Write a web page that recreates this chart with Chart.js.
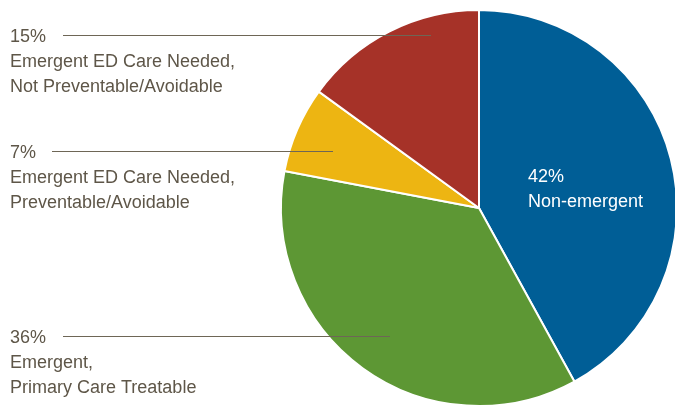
<!DOCTYPE html>
<html>
<head>
<meta charset="utf-8">
<script src="https://cdn.jsdelivr.net/npm/chart.js@4/dist/chart.umd.min.js"></script>
<style>
    html, body { margin: 0; padding: 0; background: #fff; overflow: hidden; }
    #wrap { position: relative; width: 700px; height: 420px; }
</style>
</head>
<body>
<div id="wrap"><canvas id="edChart" width="700" height="420"></canvas></div>
<script>
// ED visit categories, clockwise from 12 o'clock
const categories = [
    'Non-emergent',
    'Emergent, Primary Care Treatable',
    'Emergent ED Care Needed, Preventable/Avoidable',
    'Emergent ED Care Needed, Not Preventable/Avoidable'
];
const shares = [42, 36, 7, 15];

// caption lines printed under each percentage
const captionLines = [
    ['Non-emergent'],
    ['Emergent,', 'Primary Care Treatable'],
    ['Emergent ED Care Needed,', 'Preventable/Avoidable'],
    ['Emergent ED Care Needed,', 'Not Preventable/Avoidable']
];

const sliceColors = ['#005e96', '#5d9734', '#edb512', '#a63228'];
const textColor = '#5e5648';

// where each caption block sits; the 42% one goes inside its slice
const captionLayout = [
    { x: 528, y: 182, color: '#ffffff', inside: true },
    { x: 10, y: 343, lineFrom: 63, lineTo: 390, color: textColor },
    { x: 10, y: 158, lineFrom: 52, lineTo: 333, color: textColor },
    { x: 10, y: 42, lineFrom: 63, lineTo: 431, color: textColor }
];

const captionPlugin = {
    id: 'captions',
    afterDatasetsDraw(chart) {
        const ctx = chart.ctx;
        ctx.save();
        ctx.font = '18px "Liberation Sans", Arial, sans-serif';
        ctx.textBaseline = 'alphabetic';
        ctx.textAlign = 'left';
        shares.forEach((value, i) => {
            const pos = captionLayout[i];
            ctx.fillStyle = pos.color;
            ctx.fillText(value + '%', pos.x, pos.y);
            captionLines[i].forEach((line, j) => {
                ctx.fillText(line, pos.x, pos.y + 25 * (j + 1));
            });
            if (!pos.inside) {
                ctx.strokeStyle = '#6e6656';
                ctx.lineWidth = 1;
                ctx.beginPath();
                ctx.moveTo(pos.lineFrom, pos.y - 6.5);
                ctx.lineTo(pos.lineTo, pos.y - 6.5);
                ctx.stroke();
            }
        });
        ctx.restore();
    }
};

new Chart(document.getElementById('edChart'), {
    type: 'pie',
    data: {
        labels: categories,
        datasets: [{
            data: shares,
            backgroundColor: sliceColors,
            borderColor: '#ffffff',
            borderWidth: 2
        }]
    },
    options: {
        responsive: false,
        animation: false,
        devicePixelRatio: 1,
        events: [],
        layout: {
            padding: { left: 280, top: 9, right: 22, bottom: 13 }
        },
        plugins: {
            legend: { display: false },
            tooltip: { enabled: false }
        }
    },
    plugins: [captionPlugin]
});
</script>
</body>
</html>
